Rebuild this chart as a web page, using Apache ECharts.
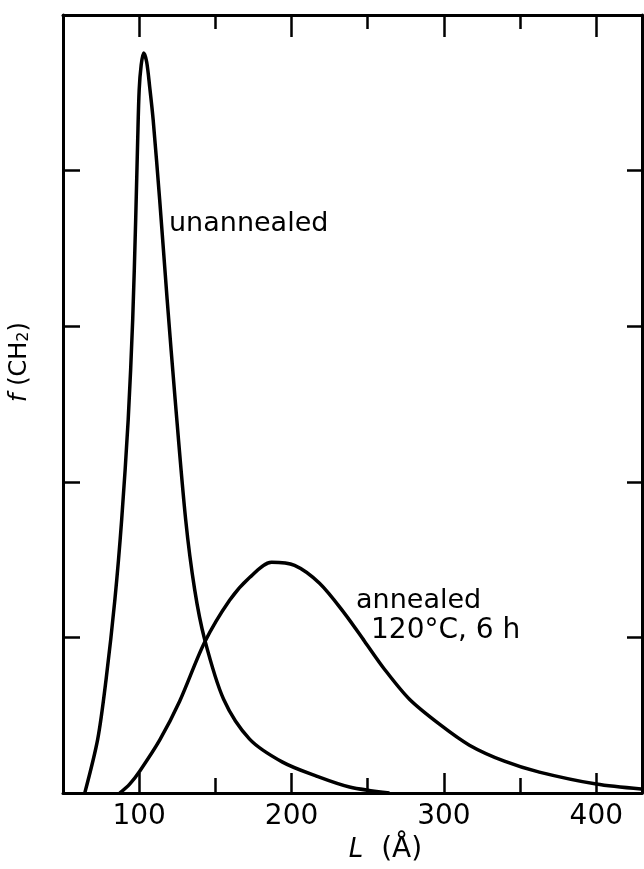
<!DOCTYPE html>
<html>
<head>
<meta charset="utf-8">
<script src="https://cdn.jsdelivr.net/npm/echarts@6/dist/echarts.min.js"></script>
<style>html,body{margin:0;padding:0;background:#fff}#c{width:644px;height:869px}</style>
</head>
<body>
<div id="c"></div>
<script>
// Data: L (Å) vs f(CH2)
const unannealedL = [64.26, 72.79, 78.29, 84.07, 88.52, 92.79, 95.74, 97.70, 99.02, 100.0, 101.31, 102.95, 104.92, 106.89, 109.18, 113.44, 118.36, 123.61, 130.49, 136.39, 142.95, 155.41, 172.46, 194.10, 216.39, 238.03, 264.26];
const unannealedF = [0, 0.347, 0.732, 1.245, 1.759, 2.400, 3.042, 3.684, 4.198, 4.519, 4.679, 4.756, 4.698, 4.538, 4.326, 3.813, 3.171, 2.529, 1.759, 1.309, 0.988, 0.603, 0.347, 0.199, 0.109, 0.039, 0];
const annealedL = [87.21, 93.77, 100.33, 113.44, 126.56, 142.95, 159.34, 172.46, 186.89, 201.97, 218.36, 234.75, 247.87, 260.98, 277.38, 297.05, 316.72, 339.67, 362.62, 400.0, 429.51];
const annealedF = [0, 0.058, 0.141, 0.340, 0.590, 0.969, 1.239, 1.385, 1.483, 1.463, 1.348, 1.155, 0.976, 0.796, 0.603, 0.443, 0.308, 0.205, 0.135, 0.058, 0.026];
const majorTicks = [100, 200, 300, 400];
const minorTicks = [150, 250, 350];
const xMin = 50, xMax = 430, yMin = 0, yMax = 5;

const FONT = '"DejaVu Sans", sans-serif';
const chart = echarts.init(document.getElementById('c'));
const lineW = 3;
function xAx(pos, ticks, len, labels, line) {
  return {
    type: 'value', position: pos, min: xMin, max: xMax, interval: 50,
    axisLine: { show: line, onZero: false, lineStyle: { color: '#000', width: lineW } },
    axisTick: { show: true, inside: true, length: len, customValues: ticks, lineStyle: { color: '#000', width: 2.5 } },
    axisLabel: labels ? { show: true, customValues: ticks, color: '#000', fontSize: 28, fontFamily: FONT, margin: 10 } : { show: false },
    splitLine: { show: false }
  };
}
const xAxes = [
  Object.assign(xAx('bottom', majorTicks, 20, true, true), {
    name: '{i|L}  (Å)', nameLocation: 'middle', nameGap: 36,
    nameTextStyle: { color: '#000', fontSize: 28, fontFamily: FONT, padding: [0, 0, 0, 66],
      rich: { i: { fontStyle: 'italic', fontSize: 26, fontFamily: FONT, color: '#000' } } }
  }),
  xAx('bottom', minorTicks, 15, false, false),
  xAx('top', majorTicks, 22, false, true),
  xAx('top', minorTicks, 14, false, false)
];
function yAx(pos, len) {
  return {
    type: 'value', position: pos, min: yMin, max: yMax, interval: 1,
    axisLine: { show: true, onZero: false, lineStyle: { color: '#000', width: lineW } },
    axisTick: { show: true, inside: true, length: len, lineStyle: { color: '#000', width: 2.5 } },
    axisLabel: { show: false }, splitLine: { show: false }
  };
}
const yAxes = [
  Object.assign(yAx('left', 17), {
    name: '{i|f} (CH{s|2})', nameLocation: 'middle', nameRotate: 90, nameGap: 31,
    nameTextStyle: { color: '#000', fontSize: 24, fontFamily: FONT, padding: [0, 0, 0, 84],
      rich: { i: { fontStyle: 'italic', fontSize: 24, fontFamily: FONT, color: '#000' },
              s: { fontSize: 16, fontFamily: FONT, color: '#000', verticalAlign: 'bottom', padding: [8, 0, 0, 0] } } }
  }),
  yAx('right', 15)
];
function pairs(xs, ys) { return xs.map((x, i) => [x, ys[i]]); }
chart.setOption({
  animation: false,
  backgroundColor: '#fff',
  grid: { left: 62, right: 2, top: 15, bottom: 75, containLabel: false },
  xAxis: xAxes,
  yAxis: yAxes,
  series: [
    { name: 'unannealed', type: 'line', xAxisIndex: 0, yAxisIndex: 0, data: pairs(unannealedL, unannealedF),
      smooth: 0.3, showSymbol: false, clip: true, lineStyle: { color: '#000', width: 3.5 } },
    { name: 'annealed 120°C, 6 h', type: 'line', xAxisIndex: 0, yAxisIndex: 0, data: pairs(annealedL, annealedF),
      smooth: 0.3, showSymbol: false, clip: true, lineStyle: { color: '#000', width: 3.5 } }
  ]
});
const t = (txt, x, y, fs) => ({ type: 'text', left: x, top: y, style: { text: txt, fill: '#000', font: fs + 'px ' + FONT } });
chart.setOption({
  graphic: [
    t('unannealed', 169, 210, 27),
    t('annealed', 356, 587, 27),
    t('120°C, 6 h', 371, 617, 28)
  ]
});
</script>
</body>
</html>
